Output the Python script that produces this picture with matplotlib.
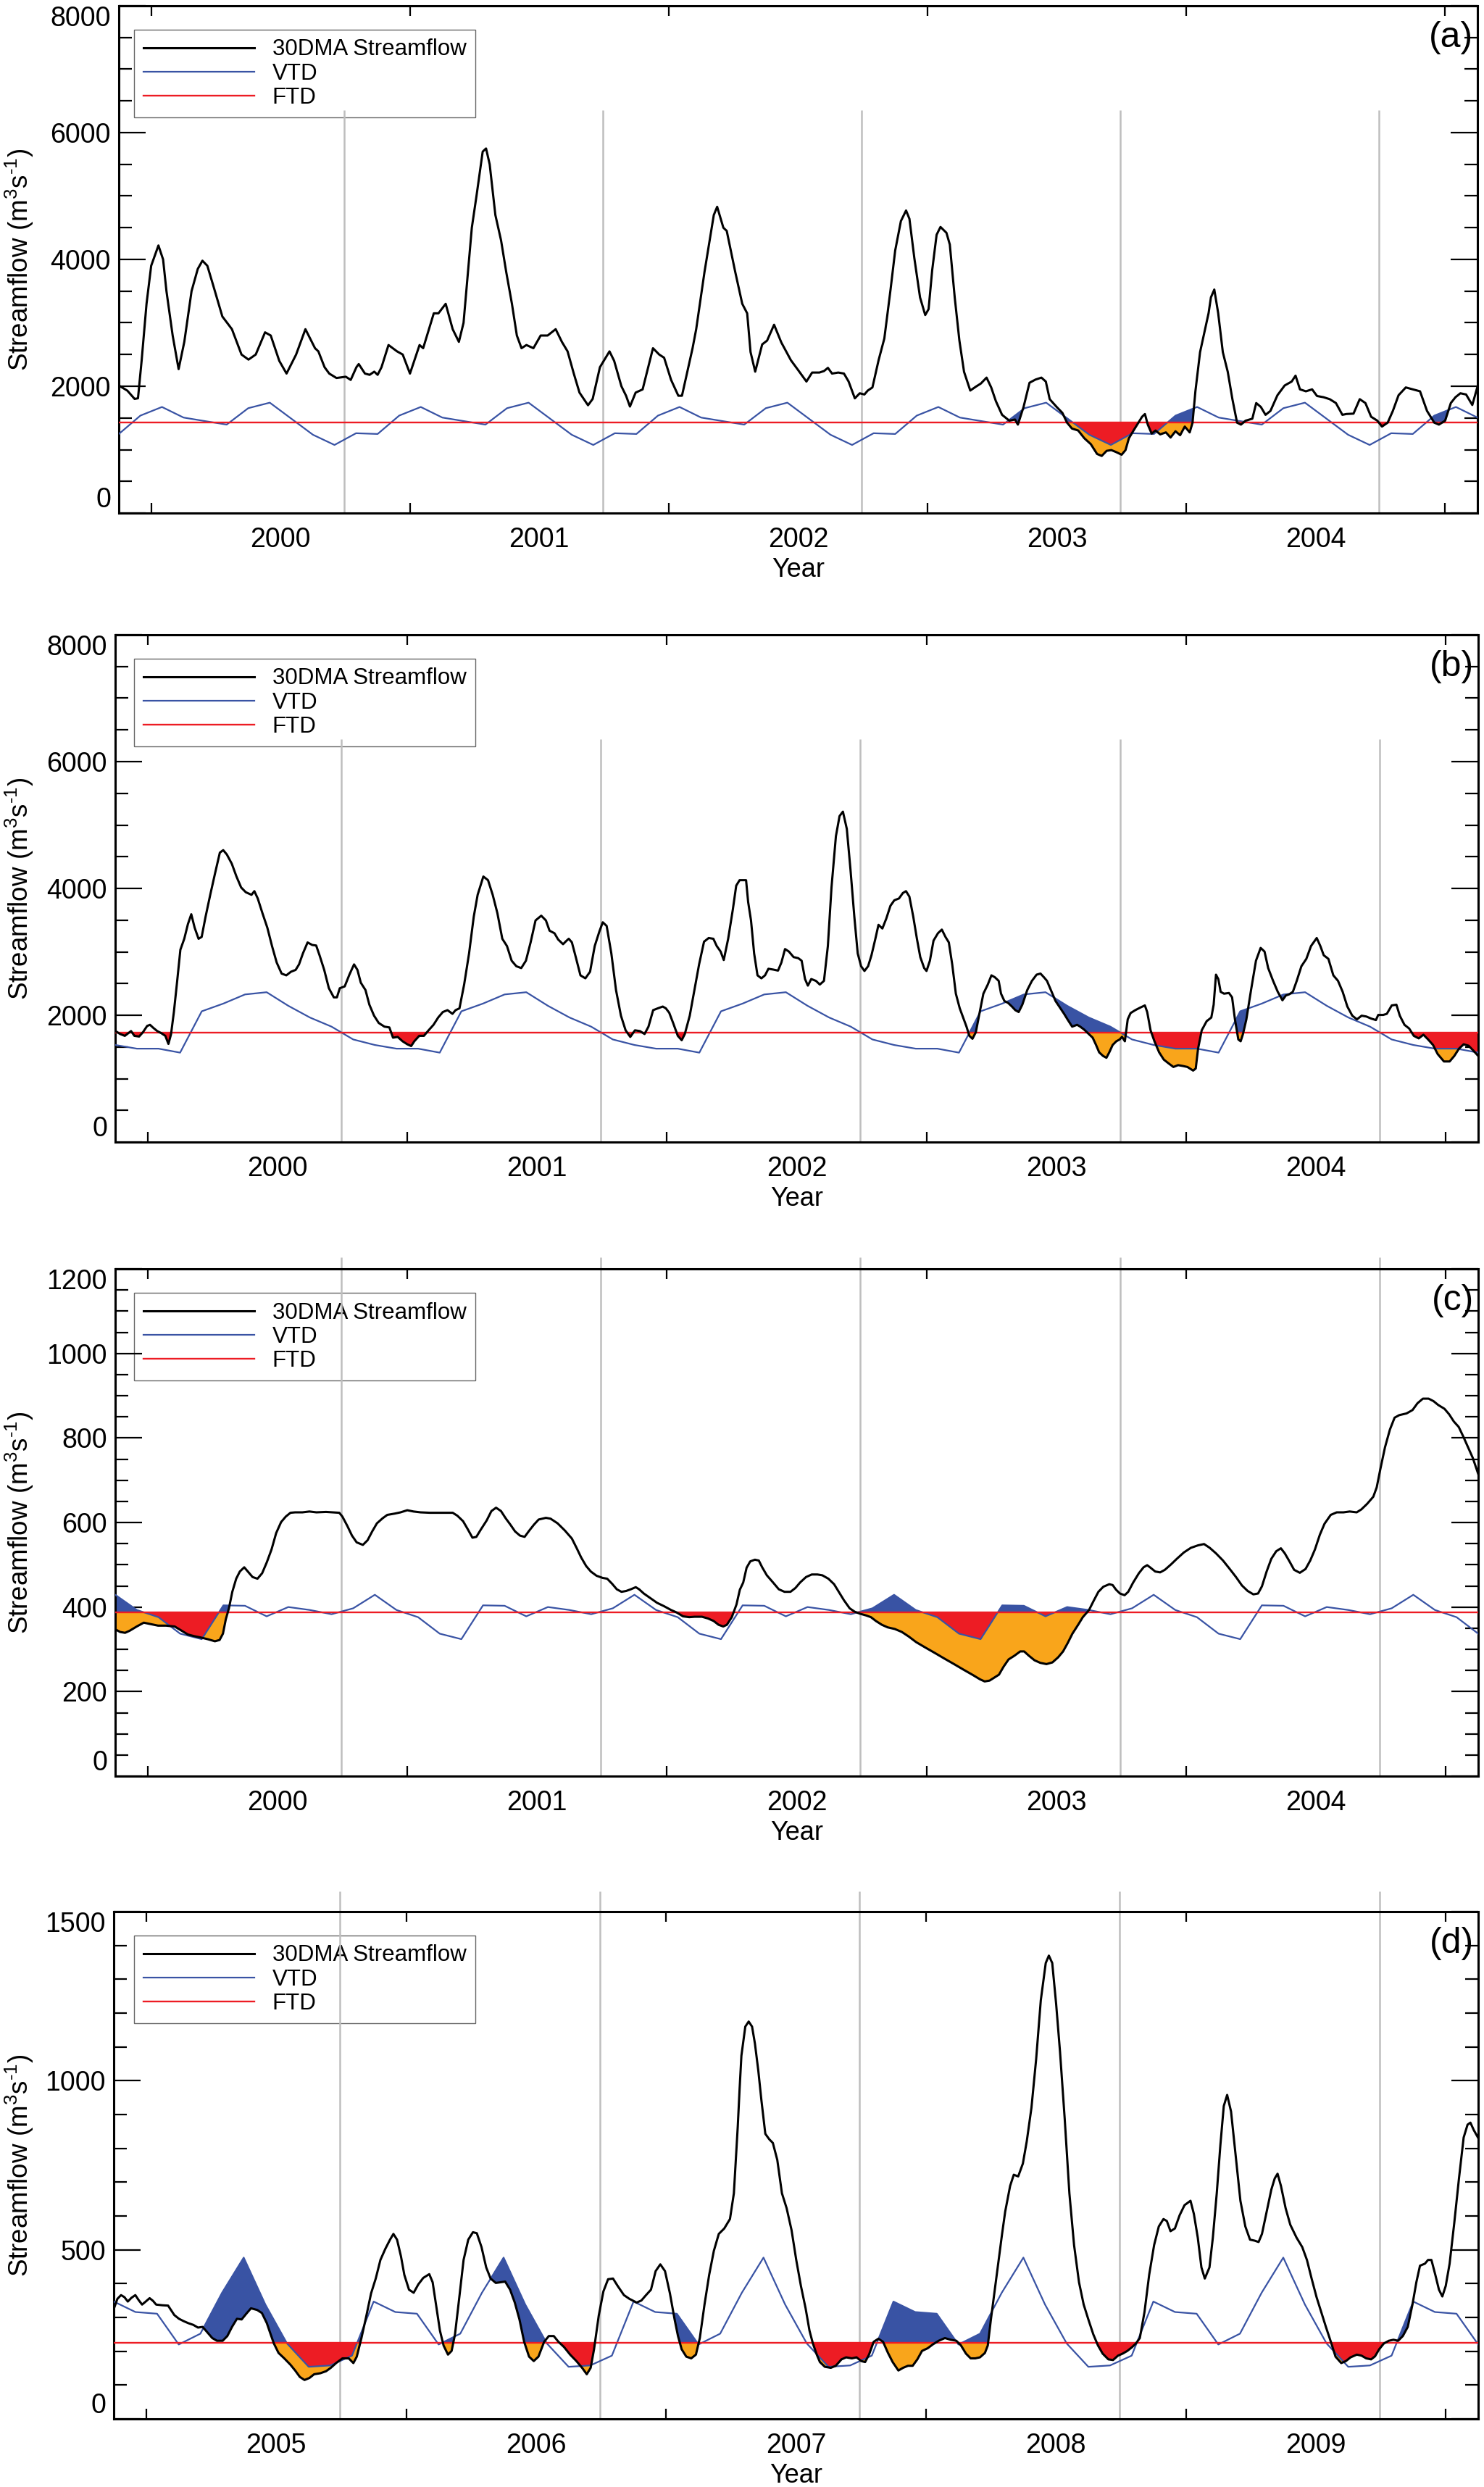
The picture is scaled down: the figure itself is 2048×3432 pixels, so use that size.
import numpy as np
import matplotlib
matplotlib.use("Agg")
import matplotlib.pyplot as plt
from matplotlib.ticker import MultipleLocator

plt.rcParams['font.family'] = ['Liberation Sans', 'DejaVu Sans']
plt.rcParams['mathtext.fontset'] = 'custom'
plt.rcParams['mathtext.rm'] = 'Liberation Sans'
plt.rcParams['mathtext.it'] = 'Liberation Sans:italic'

BLUE = '#3953A4'
RED = '#ED1C24'
ORANGE = '#F9A51B'
GRAY = '#BEBEBE'

# fixed thresholds (FTD) and monthly variable thresholds (VTD, Jan..Dec)
ftd_a, ftd_b, ftd_c, ftd_d = 1426, 1722, 387, 225
vtd_a = [1673, 1506, 1450, 1395, 1654, 1741, 1488, 1235, 1074, 1259, 1247, 1537]
vtd_b = [1473, 1410, 2062, 2184, 2328, 2363, 2149, 1964, 1820, 1618, 1531, 1473]
vtd_c = [376, 337, 324, 404, 403, 378, 400, 393, 383, 397, 429, 393]
vtd_d = [311, 220, 252, 373, 477, 338, 223, 154, 158, 187, 347, 316]

# 30-day moving average streamflow, (decimal year, m3/s)
flow_a = np.array([
    (1999.875, 2012), (1999.908, 1930), (1999.936, 1800), (1999.949, 1810), (1999.963, 2400),
    (1999.982, 3300), (2000.000, 3900), (2000.028, 4220), (2000.046, 4000), (2000.059, 3500),
    (2000.083, 2800), (2000.106, 2270), (2000.128, 2700), (2000.156, 3500), (2000.180, 3850),
    (2000.198, 3980), (2000.217, 3900), (2000.239, 3600), (2000.275, 3100), (2000.312, 2900),
    (2000.349, 2500), (2000.376, 2420), (2000.404, 2500), (2000.440, 2850), (2000.462, 2800),
    (2000.495, 2400), (2000.523, 2200), (2000.560, 2500), (2000.596, 2900), (2000.633, 2600),
    (2000.646, 2550), (2000.670, 2300), (2000.688, 2200), (2000.716, 2130), (2000.752, 2150),
    (2000.771, 2100), (2000.793, 2300), (2000.802, 2350), (2000.826, 2200), (2000.844, 2180),
    (2000.862, 2230), (2000.875, 2180), (2000.890, 2300), (2000.917, 2650), (2000.950, 2550),
    (2000.972, 2500), (2001.000, 2200), (2001.037, 2650), (2001.051, 2600), (2001.092, 3150),
    (2001.110, 3150), (2001.138, 3300), (2001.165, 2900), (2001.189, 2700), (2001.207, 3000),
    (2001.239, 4500), (2001.257, 5000), (2001.281, 5700), (2001.294, 5750), (2001.308, 5500),
    (2001.330, 4700), (2001.352, 4300), (2001.372, 3800), (2001.394, 3300), (2001.413, 2800),
    (2001.431, 2600), (2001.450, 2650), (2001.477, 2600), (2001.505, 2800), (2001.532, 2800),
    (2001.563, 2900), (2001.587, 2700), (2001.609, 2550), (2001.633, 2200), (2001.655, 1900),
    (2001.688, 1700), (2001.706, 1800), (2001.734, 2300), (2001.771, 2550), (2001.789, 2400),
    (2001.817, 2000), (2001.835, 1850), (2001.850, 1680), (2001.872, 1900), (2001.899, 1950),
    (2001.939, 2600), (2001.963, 2500), (2001.982, 2450), (2002.009, 2100), (2002.037, 1850),
    (2002.051, 1850), (2002.092, 2600), (2002.106, 2900), (2002.138, 3800), (2002.174, 4700),
    (2002.187, 4830), (2002.211, 4500), (2002.224, 4450), (2002.257, 3800), (2002.284, 3300),
    (2002.303, 3150), (2002.316, 2540), (2002.334, 2230), (2002.361, 2660), (2002.380, 2720),
    (2002.407, 2970), (2002.435, 2690), (2002.472, 2410), (2002.499, 2260), (2002.532, 2074),
    (2002.554, 2216), (2002.582, 2216), (2002.600, 2240), (2002.615, 2290), (2002.631, 2200),
    (2002.655, 2216), (2002.677, 2200), (2002.695, 2074), (2002.719, 1809), (2002.738, 1889),
    (2002.756, 1870), (2002.769, 1932), (2002.787, 1981), (2002.811, 2414), (2002.833, 2753),
    (2002.857, 3525), (2002.875, 4142), (2002.897, 4605), (2002.917, 4772), (2002.930, 4640),
    (2002.949, 4019), (2002.971, 3401), (2002.991, 3123), (2003.004, 3216), (2003.018, 3833),
    (2003.035, 4389), (2003.050, 4512), (2003.073, 4420), (2003.086, 4235), (2003.105, 3401),
    (2003.123, 2722), (2003.141, 2228), (2003.165, 1932), (2003.187, 1994), (2003.206, 2043),
    (2003.228, 2136), (2003.246, 1981), (2003.264, 1765), (2003.288, 1549), (2003.316, 1457),
    (2003.338, 1475), (2003.349, 1395), (2003.371, 1673), (2003.394, 2055), (2003.417, 2105),
    (2003.440, 2136), (2003.457, 2074), (2003.472, 1796), (2003.499, 1673), (2003.521, 1580),
    (2003.539, 1426), (2003.558, 1333), (2003.582, 1302), (2003.606, 1179), (2003.631, 1086),
    (2003.655, 932), (2003.673, 901), (2003.692, 981), (2003.710, 993), (2003.728, 963),
    (2003.750, 920), (2003.765, 993), (2003.778, 1179), (2003.796, 1302), (2003.815, 1426),
    (2003.829, 1519), (2003.840, 1562), (2003.851, 1395), (2003.866, 1253), (2003.881, 1302),
    (2003.899, 1241), (2003.921, 1272), (2003.939, 1191), (2003.958, 1290), (2003.976, 1228),
    (2003.994, 1364), (2004.013, 1272), (2004.024, 1426), (2004.035, 1920), (2004.053, 2537),
    (2004.068, 2815), (2004.086, 3154), (2004.095, 3401), (2004.108, 3525), (2004.123, 3154),
    (2004.141, 2537), (2004.160, 2228), (2004.178, 1796), (2004.196, 1426), (2004.211, 1395),
    (2004.229, 1457), (2004.255, 1488), (2004.270, 1735), (2004.288, 1673), (2004.306, 1549),
    (2004.325, 1611), (2004.352, 1858), (2004.380, 2012), (2004.407, 2074), (2004.422, 2167),
    (2004.439, 1951), (2004.462, 1920), (2004.486, 1951), (2004.505, 1846), (2004.530, 1827),
    (2004.554, 1796), (2004.578, 1735), (2004.603, 1549), (2004.618, 1562), (2004.646, 1568),
    (2004.670, 1796), (2004.692, 1735), (2004.714, 1519), (2004.738, 1457), (2004.756, 1364),
    (2004.778, 1426), (2004.798, 1611), (2004.820, 1858), (2004.848, 1981), (2004.875, 1951),
    (2004.903, 1920), (2004.930, 1611), (2004.958, 1426), (2004.976, 1395), (2005.000, 1457),
    (2005.022, 1735), (2005.040, 1827), (2005.059, 1889), (2005.081, 1870), (2005.105, 1704),
    (2005.125, 1994)])

flow_b = np.array([
    (1999.876, 1750), (1999.894, 1704), (1999.912, 1675), (1999.936, 1750), (1999.949, 1675),
    (1999.967, 1664), (1999.982, 1733), (1999.998, 1831), (2000.009, 1849), (2000.022, 1800),
    (2000.037, 1750), (2000.053, 1716), (2000.068, 1675), (2000.080, 1548), (2000.090, 1700),
    (2000.101, 2051), (2000.113, 2513), (2000.126, 3033), (2000.141, 3206), (2000.155, 3437),
    (2000.168, 3593), (2000.181, 3380), (2000.196, 3206), (2000.208, 3235), (2000.223, 3553),
    (2000.241, 3899), (2000.260, 4246), (2000.278, 4564), (2000.291, 4604), (2000.305, 4535),
    (2000.324, 4390), (2000.342, 4188), (2000.360, 4015), (2000.378, 3940), (2000.400, 3899),
    (2000.411, 3957), (2000.424, 3842), (2000.442, 3611), (2000.461, 3380), (2000.479, 3091),
    (2000.497, 2831), (2000.516, 2657), (2000.534, 2629), (2000.552, 2686), (2000.570, 2715),
    (2000.583, 2802), (2000.598, 2975), (2000.616, 3148), (2000.634, 3108), (2000.649, 3100),
    (2000.662, 2946), (2000.680, 2715), (2000.698, 2426), (2000.717, 2282), (2000.729, 2282),
    (2000.740, 2426), (2000.759, 2455), (2000.777, 2640), (2000.795, 2802), (2000.808, 2715),
    (2000.821, 2513), (2000.839, 2397), (2000.854, 2166), (2000.872, 1993), (2000.890, 1878),
    (2000.912, 1820), (2000.931, 1808), (2000.945, 1646), (2000.963, 1658), (2000.982, 1589),
    (2001.000, 1542), (2001.015, 1514), (2001.027, 1589), (2001.046, 1675), (2001.064, 1675),
    (2001.082, 1762), (2001.101, 1849), (2001.119, 1964), (2001.137, 2051), (2001.155, 2080),
    (2001.174, 2022), (2001.186, 2080), (2001.201, 2109), (2001.219, 2484), (2001.238, 2975),
    (2001.256, 3553), (2001.271, 3899), (2001.293, 4188), (2001.311, 4130), (2001.329, 3899),
    (2001.347, 3611), (2001.366, 3206), (2001.384, 3091), (2001.402, 2860), (2001.420, 2773),
    (2001.439, 2744), (2001.457, 2860), (2001.475, 3148), (2001.494, 3495), (2001.516, 3570),
    (2001.534, 3495), (2001.548, 3333), (2001.567, 3293), (2001.581, 3195), (2001.600, 3120),
    (2001.612, 3170), (2001.622, 3206), (2001.634, 3150), (2001.649, 2917), (2001.667, 2629),
    (2001.686, 2582), (2001.704, 2686), (2001.722, 3091), (2001.740, 3322), (2001.753, 3466),
    (2001.768, 3408), (2001.786, 2975), (2001.804, 2397), (2001.823, 1993), (2001.841, 1762),
    (2001.859, 1658), (2001.877, 1762), (2001.896, 1750), (2001.914, 1704), (2001.929, 1820),
    (2001.947, 2080), (2001.965, 2109), (2001.984, 2137), (2001.996, 2109), (2002.009, 2039),
    (2002.024, 1878), (2002.042, 1675), (2002.057, 1606), (2002.069, 1704), (2002.088, 1993),
    (2002.106, 2397), (2002.124, 2802), (2002.143, 3160), (2002.161, 3218), (2002.179, 3206),
    (2002.192, 3091), (2002.207, 3004), (2002.219, 2871), (2002.236, 3206), (2002.254, 3668),
    (2002.267, 4044), (2002.280, 4130), (2002.305, 4130), (2002.313, 3784), (2002.324, 3495),
    (2002.336, 2975), (2002.349, 2629), (2002.364, 2582), (2002.378, 2629), (2002.391, 2733),
    (2002.410, 2720), (2002.428, 2704), (2002.441, 2831), (2002.455, 3044), (2002.470, 3004),
    (2002.488, 2917), (2002.506, 2900), (2002.519, 2860), (2002.532, 2571), (2002.543, 2467),
    (2002.556, 2571), (2002.574, 2542), (2002.589, 2484), (2002.605, 2542), (2002.620, 3091),
    (2002.634, 4015), (2002.651, 4824), (2002.665, 5141), (2002.678, 5211), (2002.693, 4939),
    (2002.707, 4304), (2002.722, 3553), (2002.735, 2975), (2002.748, 2773), (2002.761, 2698),
    (2002.775, 2773), (2002.788, 2946), (2002.803, 3206), (2002.815, 3426), (2002.830, 3368),
    (2002.845, 3524), (2002.861, 3726), (2002.876, 3813), (2002.894, 3842), (2002.909, 3928),
    (2002.921, 3957), (2002.934, 3871), (2002.949, 3553), (2002.963, 3206), (2002.976, 2917),
    (2002.991, 2744), (2003.000, 2698), (2003.013, 2860), (2003.027, 3177), (2003.044, 3293),
    (2003.059, 3351), (2003.073, 3235), (2003.086, 3148), (2003.099, 2802), (2003.113, 2340),
    (2003.128, 2109), (2003.141, 1964), (2003.154, 1820), (2003.165, 1675), (2003.177, 1629),
    (2003.190, 1733), (2003.205, 2051), (2003.219, 2340), (2003.236, 2484), (2003.250, 2629),
    (2003.263, 2600), (2003.278, 2542), (2003.287, 2340), (2003.300, 2224), (2003.314, 2195),
    (2003.329, 2137), (2003.342, 2080), (2003.355, 2051), (2003.369, 2166), (2003.388, 2397),
    (2003.406, 2542), (2003.424, 2640), (2003.439, 2657), (2003.452, 2600), (2003.464, 2542),
    (2003.479, 2397), (2003.497, 2224), (2003.516, 2109), (2003.530, 2022), (2003.543, 1935),
    (2003.561, 1820), (2003.580, 1849), (2003.592, 1820), (2003.607, 1774), (2003.625, 1704),
    (2003.640, 1646), (2003.653, 1531), (2003.665, 1415), (2003.680, 1358), (2003.693, 1329),
    (2003.704, 1415), (2003.717, 1531), (2003.731, 1589), (2003.744, 1618), (2003.753, 1660),
    (2003.764, 1589), (2003.775, 1935), (2003.786, 2034), (2003.804, 2080), (2003.823, 2120),
    (2003.841, 2155), (2003.850, 2051), (2003.863, 1762), (2003.878, 1589), (2003.896, 1415),
    (2003.914, 1300), (2003.932, 1242), (2003.951, 1184), (2003.969, 1213), (2003.987, 1200),
    (2004.005, 1184), (2004.027, 1127), (2004.037, 1160), (2004.046, 1473), (2004.060, 1762),
    (2004.079, 1906), (2004.097, 1964), (2004.106, 2166), (2004.115, 2640), (2004.124, 2570),
    (2004.133, 2369), (2004.146, 2340), (2004.165, 2351), (2004.177, 2282), (2004.188, 1935),
    (2004.201, 1618), (2004.210, 1589), (2004.219, 1704), (2004.232, 1935), (2004.250, 2397),
    (2004.269, 2860), (2004.287, 3062), (2004.302, 3004), (2004.316, 2744), (2004.335, 2542),
    (2004.353, 2369), (2004.371, 2236), (2004.384, 2311), (2004.397, 2330), (2004.411, 2369),
    (2004.426, 2542), (2004.444, 2773), (2004.463, 2889), (2004.481, 3091), (2004.503, 3218),
    (2004.517, 3091), (2004.530, 2946), (2004.548, 2889), (2004.567, 2629), (2004.585, 2542),
    (2004.603, 2369), (2004.621, 2137), (2004.640, 1993), (2004.658, 1935), (2004.676, 1993),
    (2004.694, 1980), (2004.713, 1947), (2004.731, 1924), (2004.740, 2005), (2004.759, 2005),
    (2004.773, 2022), (2004.792, 2155), (2004.810, 2166), (2004.823, 1993), (2004.841, 1849),
    (2004.859, 1791), (2004.877, 1675), (2004.896, 1635), (2004.914, 1693), (2004.932, 1618),
    (2004.951, 1531), (2004.969, 1387), (2004.993, 1271), (2005.015, 1271), (2005.033, 1358),
    (2005.051, 1473), (2005.069, 1542), (2005.088, 1519), (2005.106, 1444), (2005.125, 1358)])

flow_c = np.array([
    (1999.876, 347), (1999.894, 341), (1999.913, 339), (1999.931, 344), (1999.958, 354),
    (1999.985, 363), (2000.009, 360), (2000.040, 356), (2000.071, 356), (2000.104, 354),
    (2000.131, 344), (2000.155, 335), (2000.180, 331), (2000.204, 328), (2000.231, 324),
    (2000.259, 319), (2000.277, 322), (2000.290, 337), (2000.301, 371), (2000.313, 397),
    (2000.326, 436), (2000.341, 467), (2000.355, 484), (2000.372, 494), (2000.386, 484),
    (2000.404, 471), (2000.423, 467), (2000.441, 480), (2000.459, 506), (2000.477, 536),
    (2000.495, 575), (2000.514, 601), (2000.532, 614), (2000.550, 623), (2000.568, 624),
    (2000.596, 624), (2000.623, 626), (2000.650, 624), (2000.687, 625), (2000.714, 624),
    (2000.738, 623), (2000.750, 614), (2000.769, 592), (2000.787, 569), (2000.805, 553),
    (2000.829, 547), (2000.847, 558), (2000.865, 579), (2000.883, 598), (2000.905, 610),
    (2000.923, 618), (2000.951, 621), (2000.974, 624), (2001.000, 629), (2001.024, 626),
    (2001.051, 624), (2001.087, 623), (2001.133, 623), (2001.175, 623), (2001.193, 616),
    (2001.215, 603), (2001.233, 584), (2001.251, 564), (2001.266, 566), (2001.284, 584),
    (2001.306, 605), (2001.324, 627), (2001.342, 635), (2001.361, 627), (2001.379, 610),
    (2001.397, 595), (2001.415, 579), (2001.434, 569), (2001.452, 566), (2001.470, 581),
    (2001.488, 595), (2001.506, 607), (2001.534, 611), (2001.552, 609), (2001.579, 598),
    (2001.607, 581), (2001.634, 562), (2001.652, 540), (2001.670, 517), (2001.689, 497),
    (2001.707, 484), (2001.729, 474), (2001.752, 469), (2001.770, 467), (2001.789, 455),
    (2001.807, 442), (2001.825, 436), (2001.843, 438), (2001.861, 442), (2001.880, 447),
    (2001.893, 442), (2001.911, 432), (2001.934, 422), (2001.962, 410), (2001.989, 402),
    (2002.016, 393), (2002.038, 387), (2002.062, 378), (2002.086, 376), (2002.107, 377),
    (2002.135, 377), (2002.158, 373), (2002.180, 367), (2002.199, 358), (2002.217, 354),
    (2002.231, 358), (2002.250, 376), (2002.268, 406), (2002.281, 441), (2002.294, 458),
    (2002.307, 493), (2002.321, 508), (2002.339, 512), (2002.354, 510), (2002.367, 494),
    (2002.385, 475), (2002.409, 458), (2002.431, 442), (2002.453, 436), (2002.476, 436),
    (2002.495, 445), (2002.513, 458), (2002.536, 471), (2002.558, 477), (2002.580, 477),
    (2002.599, 475), (2002.622, 467), (2002.644, 454), (2002.662, 436), (2002.682, 416),
    (2002.704, 397), (2002.723, 389), (2002.745, 384), (2002.768, 380), (2002.786, 376),
    (2002.805, 367), (2002.828, 358), (2002.850, 352), (2002.878, 348), (2002.905, 341),
    (2002.932, 330), (2002.960, 317), (2002.996, 304), (2003.033, 291), (2003.069, 278),
    (2003.106, 265), (2003.142, 252), (2003.179, 239), (2003.206, 229), (2003.224, 224),
    (2003.243, 226), (2003.261, 233), (2003.279, 240), (2003.297, 259), (2003.316, 276),
    (2003.339, 285), (2003.361, 295), (2003.376, 295), (2003.394, 285), (2003.416, 274),
    (2003.438, 268), (2003.462, 265), (2003.485, 269), (2003.507, 281), (2003.526, 295),
    (2003.544, 315), (2003.562, 337), (2003.584, 358), (2003.602, 376), (2003.626, 393),
    (2003.644, 415), (2003.662, 436), (2003.681, 448), (2003.704, 454), (2003.717, 452),
    (2003.730, 441), (2003.745, 432), (2003.763, 428), (2003.777, 436), (2003.796, 458),
    (2003.818, 480), (2003.836, 494), (2003.850, 499), (2003.863, 493), (2003.881, 484),
    (2003.900, 482), (2003.918, 488), (2003.942, 501), (2003.964, 514), (2003.991, 529),
    (2004.018, 540), (2004.046, 546), (2004.069, 549), (2004.091, 540), (2004.115, 527),
    (2004.142, 510), (2004.168, 490), (2004.192, 471), (2004.215, 451), (2004.237, 438),
    (2004.259, 430), (2004.277, 432), (2004.292, 449), (2004.310, 484), (2004.328, 514),
    (2004.347, 532), (2004.365, 539), (2004.380, 527), (2004.398, 508), (2004.416, 488),
    (2004.438, 481), (2004.460, 490), (2004.478, 510), (2004.496, 536), (2004.515, 571),
    (2004.533, 597), (2004.557, 618), (2004.580, 624), (2004.606, 624), (2004.630, 626),
    (2004.657, 624), (2004.675, 631), (2004.697, 644), (2004.721, 661), (2004.734, 683),
    (2004.748, 726), (2004.766, 778), (2004.785, 820), (2004.803, 848), (2004.821, 854),
    (2004.849, 858), (2004.872, 866), (2004.891, 882), (2004.912, 893), (2004.934, 893),
    (2004.953, 887), (2004.971, 878), (2004.995, 869), (2005.013, 856), (2005.031, 839),
    (2005.050, 826), (2005.067, 804), (2005.086, 778), (2005.104, 753), (2005.125, 715)])

flow_d = np.array([
    (2004.876, 327), (2004.889, 355), (2004.903, 366), (2004.916, 360), (2004.929, 347),
    (2004.943, 358), (2004.958, 366), (2004.971, 351), (2004.984, 338), (2004.998, 347),
    (2005.013, 357), (2005.026, 349), (2005.038, 338), (2005.062, 336), (2005.084, 335),
    (2005.095, 322), (2005.108, 307), (2005.126, 296), (2005.144, 289), (2005.162, 283),
    (2005.181, 278), (2005.199, 270), (2005.217, 272), (2005.235, 256), (2005.254, 239),
    (2005.272, 231), (2005.294, 231), (2005.312, 245), (2005.330, 272), (2005.349, 296),
    (2005.367, 294), (2005.385, 311), (2005.403, 327), (2005.427, 322), (2005.445, 313),
    (2005.464, 283), (2005.476, 256), (2005.491, 223), (2005.509, 195), (2005.531, 179),
    (2005.555, 160), (2005.573, 143), (2005.591, 124), (2005.609, 115), (2005.628, 121),
    (2005.646, 132), (2005.670, 135), (2005.692, 141), (2005.710, 151), (2005.732, 166),
    (2005.755, 179), (2005.779, 179), (2005.797, 165), (2005.810, 184), (2005.828, 239),
    (2005.847, 305), (2005.865, 371), (2005.883, 415), (2005.901, 470), (2005.920, 503),
    (2005.938, 530), (2005.951, 547), (2005.965, 530), (2005.980, 481), (2005.993, 426),
    (2006.011, 382), (2006.029, 373), (2006.047, 398), (2006.066, 417), (2006.089, 428),
    (2006.102, 404), (2006.115, 338), (2006.130, 261), (2006.144, 217), (2006.161, 190),
    (2006.175, 201), (2006.188, 250), (2006.203, 349), (2006.221, 470), (2006.239, 530),
    (2006.257, 552), (2006.272, 549), (2006.290, 508), (2006.308, 448), (2006.325, 415),
    (2006.345, 402), (2006.363, 404), (2006.381, 406), (2006.400, 382), (2006.418, 344),
    (2006.436, 294), (2006.454, 228), (2006.473, 184), (2006.491, 171), (2006.509, 184),
    (2006.531, 228), (2006.549, 245), (2006.568, 245), (2006.586, 228), (2006.608, 212),
    (2006.631, 190), (2006.655, 171), (2006.677, 151), (2006.695, 132), (2006.710, 151),
    (2006.723, 206), (2006.741, 305), (2006.759, 377), (2006.777, 413), (2006.796, 415),
    (2006.814, 393), (2006.838, 366), (2006.859, 355), (2006.887, 344), (2006.905, 350),
    (2006.923, 366), (2006.942, 382), (2006.960, 437), (2006.978, 457), (2006.996, 437),
    (2007.015, 371), (2007.033, 294), (2007.046, 245), (2007.060, 206), (2007.078, 184),
    (2007.097, 179), (2007.115, 190), (2007.130, 239), (2007.148, 338), (2007.166, 426),
    (2007.184, 497), (2007.203, 547), (2007.224, 563), (2007.246, 591), (2007.261, 667),
    (2007.276, 865), (2007.283, 975), (2007.290, 1074), (2007.305, 1160), (2007.318, 1175),
    (2007.331, 1160), (2007.342, 1110), (2007.355, 1030), (2007.367, 942), (2007.382, 843),
    (2007.397, 827), (2007.411, 816), (2007.428, 766), (2007.446, 667), (2007.464, 623),
    (2007.483, 558), (2007.501, 470), (2007.519, 393), (2007.537, 327), (2007.552, 261),
    (2007.565, 223), (2007.580, 190), (2007.592, 168), (2007.611, 154), (2007.634, 151),
    (2007.653, 157), (2007.675, 176), (2007.693, 182), (2007.715, 179), (2007.733, 182),
    (2007.751, 171), (2007.766, 168), (2007.781, 190), (2007.799, 228), (2007.817, 237),
    (2007.835, 228), (2007.854, 195), (2007.872, 168), (2007.894, 143), (2007.912, 151),
    (2007.931, 157), (2007.949, 157), (2007.967, 176), (2007.985, 201), (2008.007, 209),
    (2008.026, 220), (2008.049, 231), (2008.073, 239), (2008.095, 234), (2008.117, 231),
    (2008.135, 217), (2008.154, 193), (2008.172, 179), (2008.190, 179), (2008.208, 182),
    (2008.227, 195), (2008.238, 217), (2008.250, 294), (2008.263, 371), (2008.278, 459),
    (2008.293, 547), (2008.305, 613), (2008.324, 689), (2008.338, 722), (2008.355, 717),
    (2008.373, 755), (2008.388, 821), (2008.406, 920), (2008.424, 1063), (2008.442, 1238),
    (2008.461, 1348), (2008.473, 1370), (2008.486, 1348), (2008.501, 1227), (2008.516, 1085),
    (2008.534, 887), (2008.552, 667), (2008.570, 514), (2008.589, 404), (2008.607, 338),
    (2008.625, 294), (2008.644, 250), (2008.662, 217), (2008.680, 193), (2008.702, 176),
    (2008.720, 174), (2008.739, 187), (2008.757, 193), (2008.775, 201), (2008.793, 212),
    (2008.808, 223), (2008.823, 239), (2008.841, 316), (2008.859, 426), (2008.878, 514),
    (2008.896, 569), (2008.914, 591), (2008.927, 585), (2008.941, 555), (2008.958, 563),
    (2008.976, 602), (2008.995, 632), (2009.018, 645), (2009.031, 606), (2009.046, 536),
    (2009.060, 448), (2009.073, 415), (2009.091, 448), (2009.104, 536), (2009.119, 667),
    (2009.133, 810), (2009.146, 925), (2009.159, 958), (2009.174, 909), (2009.192, 777),
    (2009.210, 645), (2009.229, 569), (2009.247, 530), (2009.265, 527), (2009.280, 523),
    (2009.293, 547), (2009.311, 613), (2009.329, 678), (2009.342, 711), (2009.353, 725),
    (2009.366, 689), (2009.384, 623), (2009.402, 574), (2009.426, 536), (2009.448, 508),
    (2009.466, 470), (2009.484, 415), (2009.503, 360), (2009.521, 316), (2009.539, 272),
    (2009.558, 228), (2009.576, 184), (2009.598, 165), (2009.616, 171), (2009.634, 182),
    (2009.658, 190), (2009.676, 187), (2009.694, 179), (2009.713, 176), (2009.728, 185),
    (2009.744, 206), (2009.762, 223), (2009.781, 231), (2009.799, 234), (2009.817, 231),
    (2009.835, 245), (2009.854, 272), (2009.872, 338), (2009.887, 404), (2009.901, 453),
    (2009.920, 459), (2009.932, 470), (2009.945, 470), (2009.960, 426), (2009.974, 382),
    (2009.987, 362), (2010.000, 393), (2010.015, 459), (2010.033, 580), (2010.051, 711),
    (2010.069, 832), (2010.084, 870), (2010.095, 876), (2010.108, 854), (2010.124, 832)])

W, H = 2048, 3432
# panel: data, vtd, ftd, first year, y max, major, minor, year-line top, tag, box px (l, r, t, b)
panels = [
    (flow_a, vtd_a, ftd_a, 2000, 8000, 2000, 500, 6355, '(a)', (164, 2039, 8, 708)),
    (flow_b, vtd_b, ftd_b, 2000, 8000, 2000, 500, 6355, '(b)', (159, 2040, 876, 1576)),
    (flow_c, vtd_c, ftd_c, 2000, 1200, 200, 50, 1228, '(c)', (159, 2040, 1751, 2451)),
    (flow_d, vtd_d, ftd_d, 2005, 1500, 500, 100, 1560, '(d)', (157, 2040, 2638, 3338)),
]

fig = plt.figure(figsize=(W / 100, H / 100), dpi=100)

for flow, vtd, ftd, start, ymax, ystep, yminor, line_top, tag, (l, r, t, b) in panels:
    ax = fig.add_axes([l / W, 1 - b / H, (r - l) / W, (b - t) / H])
    yr, q = flow[:, 0], flow[:, 1]

    yrs = np.arange(start - 1, start + 7)
    vx = (yrs[:, None] + (np.arange(12) + 0.5) / 12).ravel()
    vy = np.tile(vtd, len(yrs))

    # shading on a common grid
    grid = np.union1d(np.linspace(yr[0], yr[-1], 8000), yr)
    qq = np.interp(grid, yr, q)
    vv = np.interp(grid, vx, vy)
    ff = np.full_like(grid, ftd, dtype=float)
    hi_qf = np.maximum(qq, ff)
    ax.fill_between(grid, hi_qf, vv, where=vv > hi_qf, interpolate=True,
                    color=BLUE, lw=0, zorder=2)
    hi_qv = np.maximum(qq, vv)
    ax.fill_between(grid, hi_qv, ff, where=ff > hi_qv, interpolate=True,
                    color=RED, lw=0, zorder=2)
    lo_vf = np.minimum(vv, ff)
    ax.fill_between(grid, qq, lo_vf, where=qq < lo_vf, interpolate=True,
                    color=ORANGE, lw=0, zorder=2)

    ax.vlines(np.arange(start, start + 5) + 0.745, 0, line_top, colors=GRAY,
              lw=1.8, zorder=1.2, clip_on=False)

    l_vtd, = ax.plot(vx, vy, color=BLUE, lw=1.6, zorder=3)
    l_ftd = ax.axhline(ftd, color=RED, lw=1.7, zorder=3)
    l_q, = ax.plot(yr, q, color='black', lw=2.2, zorder=4)

    ax.set_xlim(start - 0.125, start + 5.125)
    ax.set_ylim(0, ymax)

    ax.set_xticks(np.arange(start, start + 6))
    ax.set_xticklabels([])
    ax.set_xticks(np.arange(start, start + 5) + 0.5, minor=True)
    ax.set_xticklabels([str(y) for y in range(start, start + 5)], minor=True)
    ax.tick_params(axis='x', which='major', direction='in', length=10, width=1.6,
                   top=True, bottom=True)
    ax.tick_params(axis='x', which='minor', length=0, pad=14, labelsize=27)

    ax.set_yticks(np.arange(0, ymax + 1, ystep))
    ax.yaxis.set_minor_locator(MultipleLocator(yminor))
    ax.tick_params(axis='y', which='major', direction='in', length=26.5, width=1.6,
                   left=True, right=True, labelsize=27, pad=8)
    ax.tick_params(axis='y', which='minor', direction='in', length=13, width=1.6,
                   left=True, right=True)
    yt = ax.yaxis.get_major_ticks()
    yt[0].label1.set_va('bottom')
    yt[-1].label1.set_va('top')

    for sp in ax.spines.values():
        sp.set_linewidth(2.2)

    ax.set_ylabel(r'Streamflow (m$^{3}$s$^{\text{-}1}$)', fontsize=26.5)
    ax.yaxis.set_label_coords((49 - l) / (r - l), 0.5)
    ax.set_xlabel('Year', fontsize=26, labelpad=4)

    leg = ax.legend([l_q, l_vtd, l_ftd], ['30DMA Streamflow', 'VTD', 'FTD'],
                    loc='upper left',
                    bbox_to_anchor=((185 - l) / (r - l), 1 - 33 / (b - t)),
                    borderaxespad=0, fontsize=22.5, handlelength=4.9,
                    handletextpad=0.8, labelspacing=0.1, borderpad=0.4,
                    fancybox=False, framealpha=1, edgecolor='#666666')
    leg.get_frame().set_linewidth(1.0)
    leg.set_zorder(1)

    ax.text(0.997, 0.97, tag, transform=ax.transAxes, ha='right', va='top',
            fontsize=36, zorder=6)

fig.savefig('out.png', dpi=100)
